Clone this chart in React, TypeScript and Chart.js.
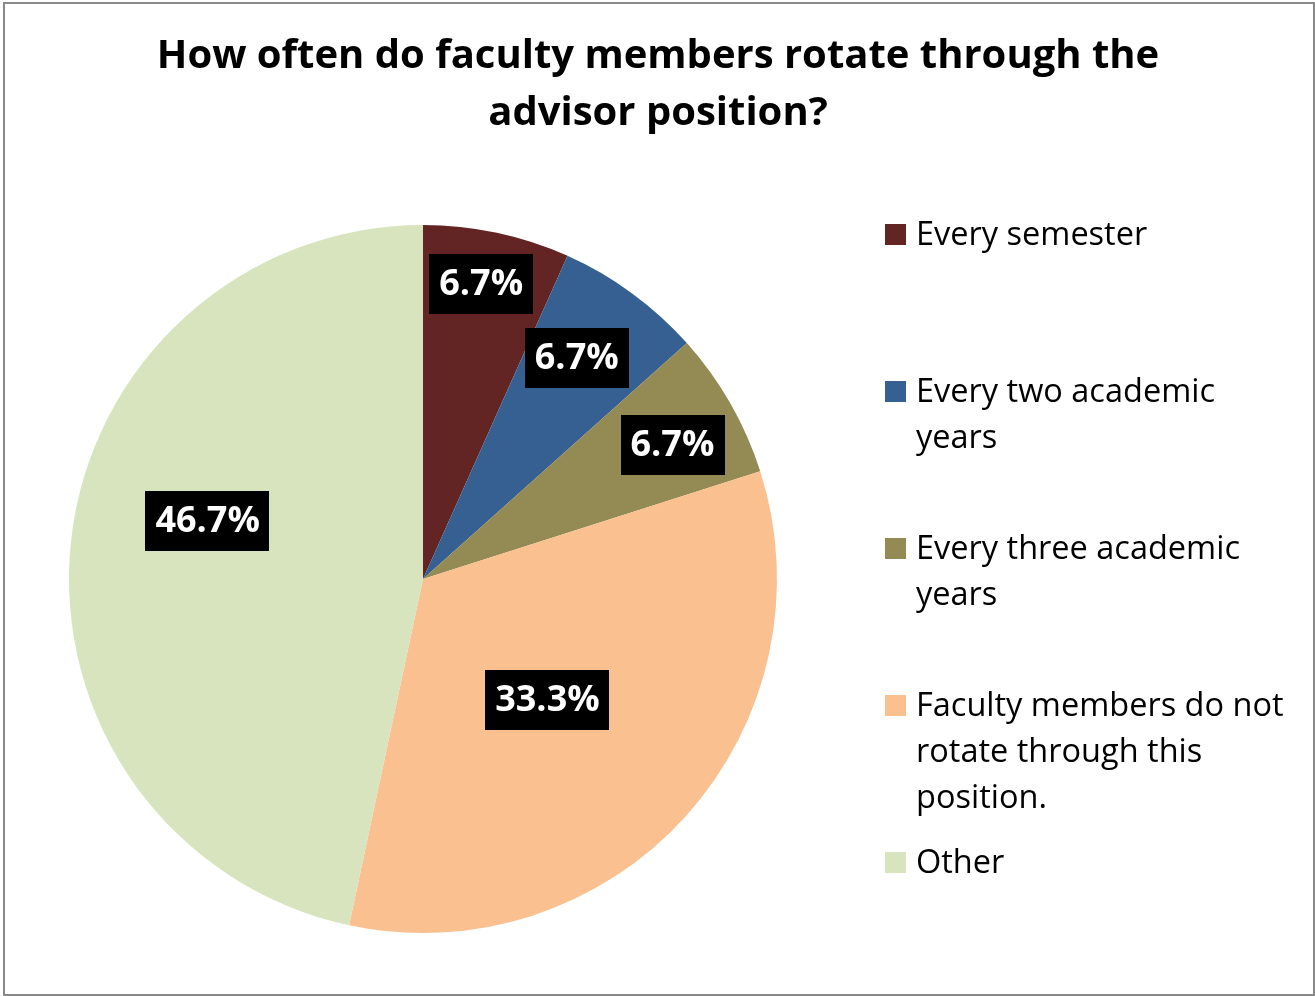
import React, { useEffect, useRef } from "react";
import { Chart, registerables } from "chart.js";

Chart.register(...registerables);

const titleLines = ["How often do faculty members rotate through the", "advisor position?"];
const categories = [
  "Every semester",
  "Every two academic years",
  "Every three academic years",
  "Faculty members do not rotate through this position.",
  "Other",
];
const percentValues = [6.7, 6.7, 6.7, 33.3, 46.7];
const sliceColors = ["#632523", "#376092", "#948A54", "#FAC090", "#D7E4BD"];

// label placement style (fraction of radius, angle offset in degrees)
const labelRadiusFrac = [0.85, 0.76, 0.8, 0.49, 0.63];
const labelAngleOffset = [-0.9, -1.3, 1.5, 2, 9];

const W = 1315;
const H = 996;
const FONT = "'Open Sans', 'DejaVu Sans', sans-serif";

const decorPlugin = {
  id: "decor",
  beforeDraw(chart: any) {
    const ctx = chart.ctx;
    ctx.save();
    ctx.fillStyle = "#ffffff";
    ctx.fillRect(0, 0, W, H);
    ctx.strokeStyle = "#898989";
    ctx.lineWidth = 2;
    ctx.strokeRect(4, 3, 1310, 992);
    // title
    ctx.fillStyle = "#000000";
    ctx.font = `bold 40px ${FONT}`;
    ctx.textAlign = "center";
    ctx.textBaseline = "middle";
    titleLines.forEach((t, i) => ctx.fillText(t, 658, 57 + i * 57));
    ctx.restore();
  },
  afterDraw(chart: any) {
    const ctx = chart.ctx;
    const meta = chart.getDatasetMeta(0);
    ctx.save();
    // data labels
    ctx.font = `bold 36px ${FONT}`;
    ctx.textAlign = "center";
    ctx.textBaseline = "middle";
    meta.data.forEach((arc: any, i: number) => {
      const p = arc.getProps(["x", "y", "startAngle", "endAngle", "outerRadius"], true);
      const mid = (p.startAngle + p.endAngle) / 2 + (labelAngleOffset[i] * Math.PI) / 180;
      const r = p.outerRadius * labelRadiusFrac[i];
      const cx = p.x + Math.cos(mid) * r;
      const cy = p.y + Math.sin(mid) * r;
      const txt = percentValues[i].toFixed(1) + "%";
      const tw = ctx.measureText(txt).width;
      const bw = tw + 20;
      const bh = 60;
      ctx.fillStyle = "#000000";
      ctx.fillRect(Math.round(cx - bw / 2), Math.round(cy - bh / 2), Math.round(bw), bh);
      ctx.fillStyle = "#ffffff";
      ctx.fillText(txt, cx, cy + 1);
    });
    // legend
    ctx.font = `32.5px ${FONT}`;
    ctx.textAlign = "left";
    const maxW = 372;
    categories.forEach((label, i) => {
      const y0 = 234 + i * 157;
      ctx.fillStyle = sliceColors[i];
      ctx.fillRect(885, y0 - 10, 21, 21);
      const words = label.split(" ");
      const lines: string[] = [];
      let cur = "";
      words.forEach((w) => {
        const test = cur ? cur + " " + w : w;
        if (ctx.measureText(test).width > maxW && cur) {
          lines.push(cur);
          cur = w;
        } else cur = test;
      });
      if (cur) lines.push(cur);
      ctx.fillStyle = "#000000";
      lines.forEach((ln, j) => ctx.fillText(ln, 916, y0 + 2 + j * 46));
    });
    ctx.restore();
  },
};

export default function App() {
  const ref = useRef<HTMLCanvasElement>(null);
  useEffect(() => {
    document.body.style.margin = "0";
    const chart = new Chart(ref.current as HTMLCanvasElement, {
      type: "pie",
      data: {
        labels: categories,
        datasets: [
          {
            data: percentValues,
            backgroundColor: sliceColors,
            borderWidth: 0,
          },
        ],
      },
      options: {
        responsive: false,
        animation: false,
        layout: { padding: { left: 69, right: 538, top: 225, bottom: 63 } },
        plugins: {
          legend: { display: false },
          title: { display: false },
          tooltip: { enabled: false },
        },
      },
      plugins: [decorPlugin],
    });
    return () => chart.destroy();
  }, []);
  return (
    <div style={{ position: "absolute", left: 0, top: 0, width: W, height: H }}>
      <canvas ref={ref} width={W} height={H} style={{ width: W, height: H, display: "block" }} />
    </div>
  );
}
